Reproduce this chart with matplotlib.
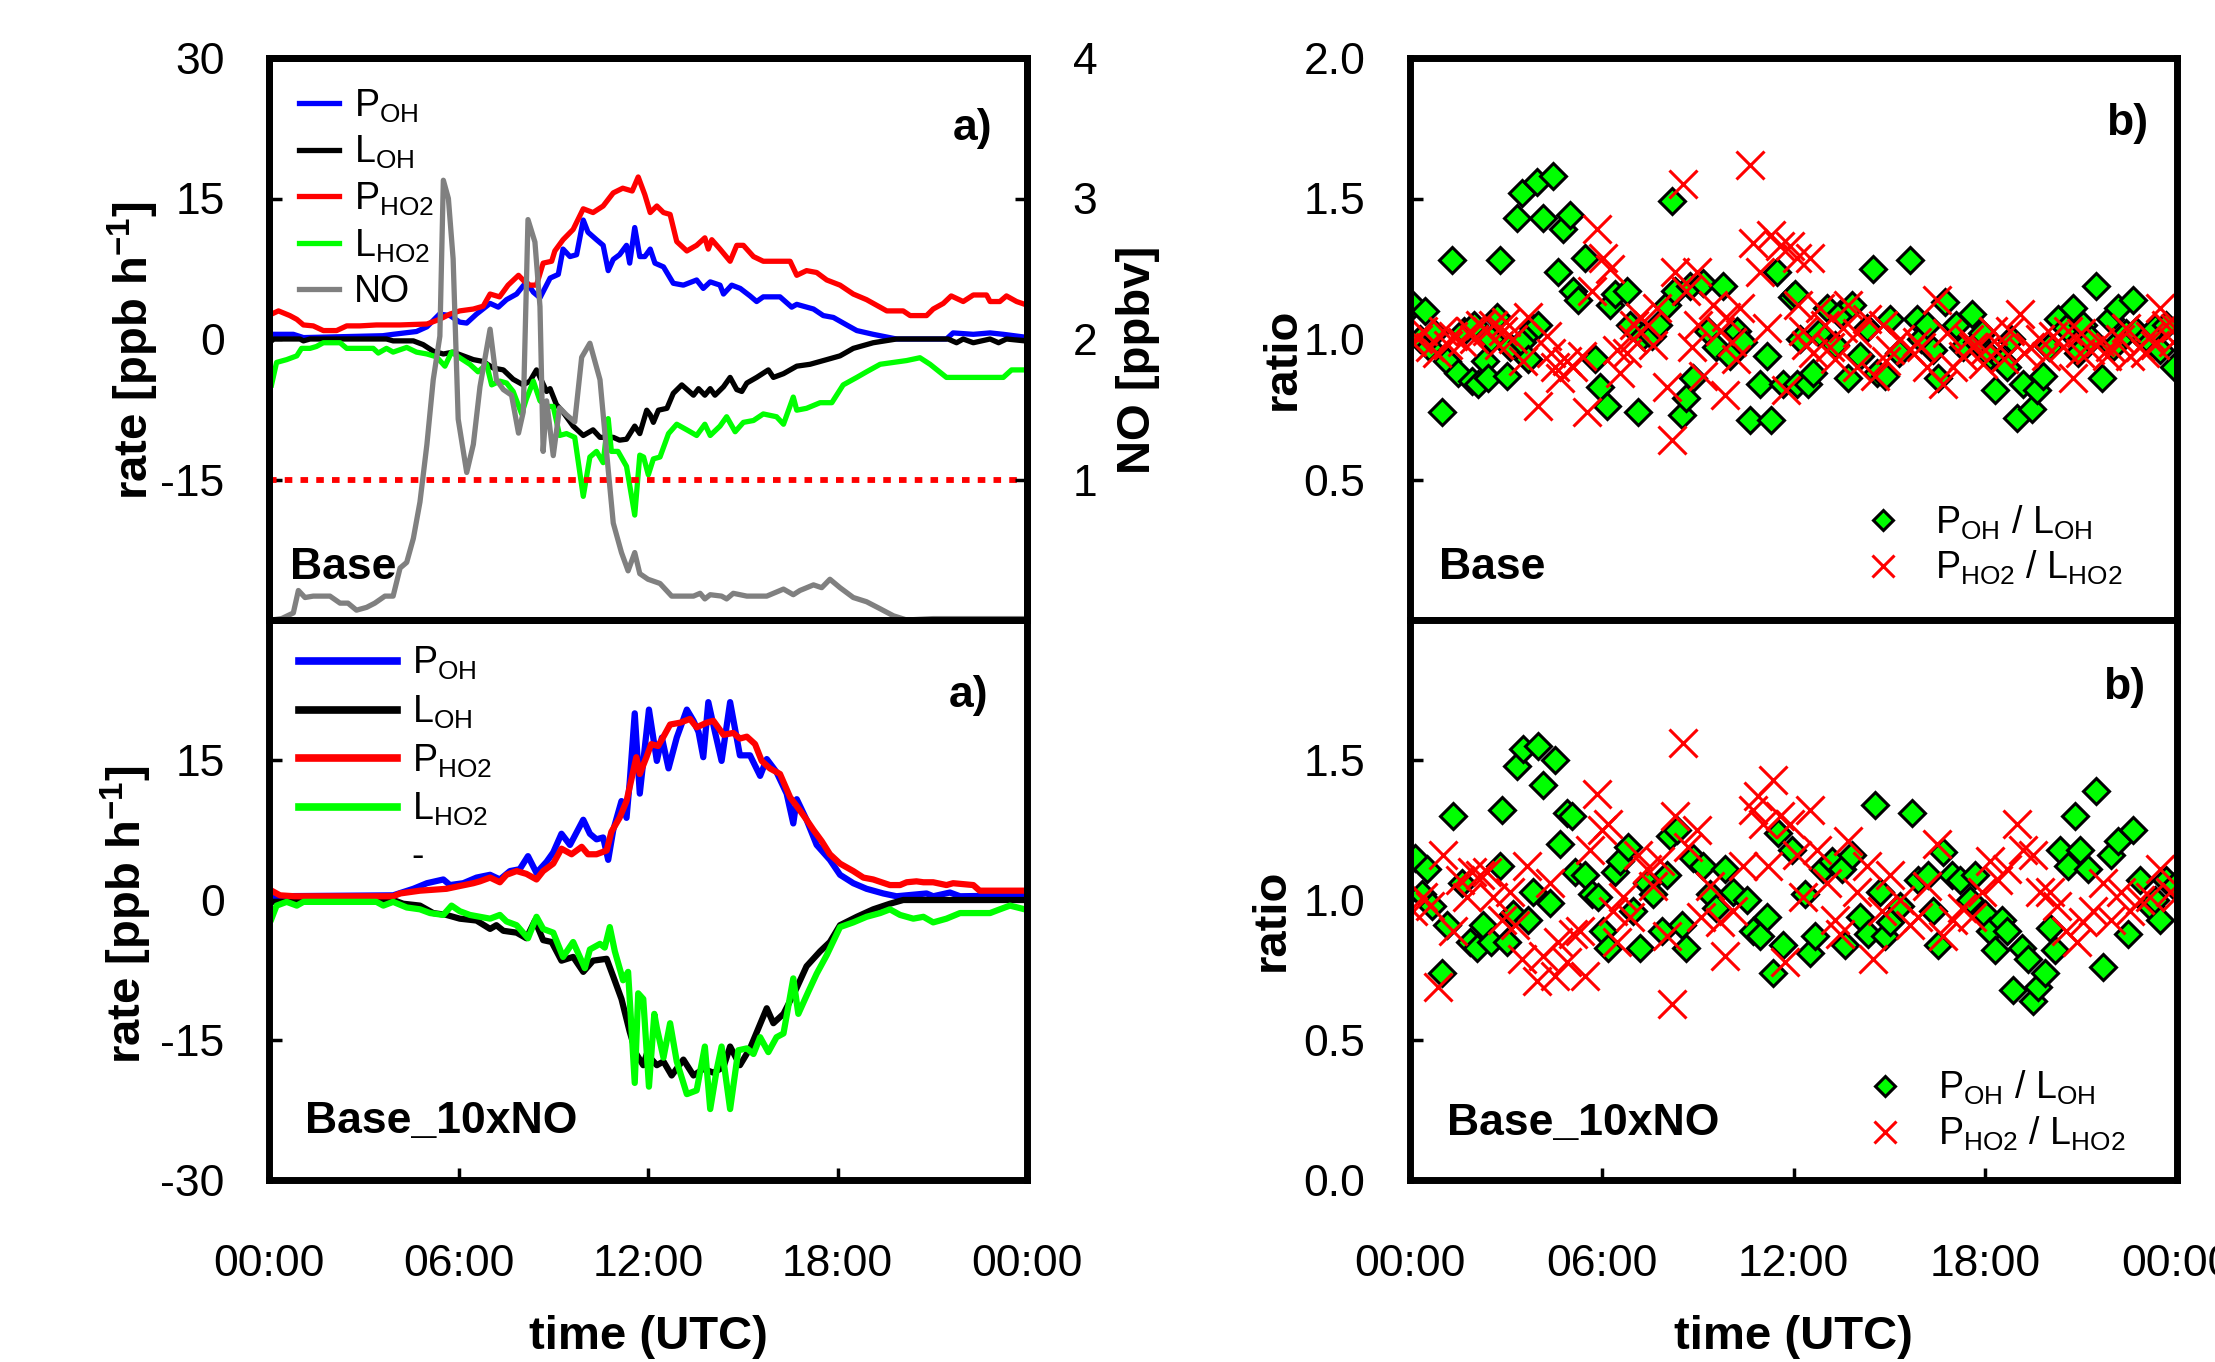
import matplotlib
matplotlib.use('Agg')
import matplotlib.pyplot as plt
from matplotlib.lines import Line2D
import numpy as np

plt.rcParams['font.family'] = ['Liberation Sans', 'DejaVu Sans']
plt.rcParams['mathtext.fontset'] = 'custom'
plt.rcParams['mathtext.rm'] = 'Liberation Sans'
plt.rcParams['mathtext.it'] = 'Liberation Sans:italic'
plt.rcParams['mathtext.bf'] = 'Liberation Sans:bold'

# ---------------- axes / tick definitions ----------------
TICK_HOURS = [0, 6, 12, 18, 24]
TICK_LABELS = ['00:00', '06:00', '12:00', '18:00', '00:00']
RATE_TICKS = [-30, -15, 0, 15, 30]
NO_TICKS = [0, 1, 2, 3, 4]
RATIO_TICKS = [0.0, 0.5, 1.0, 1.5, 2.0]
NO_REF = 1.0  # ppbv reference line

# ---------------- panel a) Base : (hour, rate ppb/h) ----------------
P_OH_BASE = [(0.08,0.5),(0.77,0.5),(1.09,0.15),(3.6,0.35),(3.93,0.5),(4.67,0.8),(5.0,1.3),(5.4,2.66),(5.73,2.5),
             (6.04,1.8),(6.26,1.7),(6.57,2.66),(7.0,3.8),(7.26,3.4),(7.52,4.2),(7.84,4.8),(8.15,6.1),(8.37,5.0),
             (8.58,4.4),(8.9,6.5),(9.16,6.9),(9.31,9.6),(9.53,8.8),(9.74,9.0),(9.95,12.7),(10.1,11.4),(10.37,10.6),
             (10.58,10.0),(10.74,7.3),(10.9,8.5),(11.1,9.0),(11.32,10.0),(11.42,8.1),(11.58,11.9),(11.74,8.8),
             (11.9,8.8),(12.07,9.6),(12.22,8.1),(12.49,7.7),(12.8,5.95),(13.12,5.75),(13.54,6.3),(13.75,5.4),
             (13.97,6.1),(14.28,5.75),(14.39,4.8),(14.65,5.75),(14.92,5.4),(15.23,4.6),(15.44,4.0),(15.65,4.5),
             (16.18,4.5),(16.55,3.4),(16.71,3.7),(17.24,3.2),(17.55,2.5),(17.87,2.3),(18.29,1.5),(18.61,0.9),
             (19.13,0.5),(19.87,0.0),(21.45,0.0),(21.66,0.65),(22.3,0.5),(22.83,0.65),(23.25,0.5),(23.93,0.2)]
L_OH_BASE = [(0.08,-0.2),(0.15,0.0),(0.98,0.0),(1.09,-0.2),(1.3,0.0),(3.72,0.0),(3.93,-0.2),(4.57,-0.2),(4.88,-0.6),
             (5.2,-1.3),(5.52,-1.6),(5.83,-1.4),(6.15,-1.8),(6.47,-2.2),(6.78,-2.4),(7.1,-3.1),(7.42,-3.3),(7.73,-4.3),
             (8.05,-4.9),(8.26,-4.5),(8.47,-3.3),(8.79,-5.6),(8.9,-5.3),(9.1,-7.0),(9.31,-7.8),(9.63,-9.3),(9.95,-10.3),
             (10.26,-9.7),(10.48,-10.5),(10.9,-10.5),(11.1,-10.8),(11.32,-10.7),(11.58,-9.3),(11.74,-10.1),(11.96,-7.6),
             (12.07,-8.1),(12.17,-8.9),(12.33,-7.6),(12.6,-7.4),(12.8,-5.8),(13.07,-4.9),(13.44,-6.0),(13.6,-5.3),
             (13.8,-6.0),(13.97,-5.3),(14.12,-6.0),(14.39,-5.1),(14.6,-4.1),(14.81,-5.4),(14.97,-5.6),(15.13,-4.7),
             (15.44,-4.1),(15.81,-3.3),(15.97,-4.1),(16.29,-3.7),(16.71,-2.9),(17.13,-2.7),(17.66,-2.2),(18.08,-1.8),
             (18.5,-1.0),(19.13,-0.4),(19.87,0.0),(21.5,0.0),(21.77,-0.4),(21.98,0.0),(22.3,-0.4),(22.83,0.0),
             (23.1,-0.4),(23.35,0.0),(23.93,-0.2)]
P_HO2_BASE = [(0.08,2.66),(0.3,3.0),(0.66,2.5),(0.88,2.1),(1.09,1.5),(1.4,1.4),(1.72,0.9),(2.14,0.9),(2.46,1.4),
              (2.88,1.4),(3.4,1.5),(4.15,1.5),(5.0,1.6),(5.4,2.1),(5.73,2.66),(6.04,3.0),(6.47,3.2),(6.78,3.5),
              (7.0,4.8),(7.3,4.5),(7.57,5.75),(7.9,6.8),(8.1,6.1),(8.26,5.75),(8.47,5.75),(8.68,8.1),(8.95,8.3),
              (9.05,9.4),(9.31,10.6),(9.63,11.7),(9.95,13.9),(10.26,13.5),(10.58,14.2),(10.9,15.6),(11.2,16.1),
              (11.5,15.8),(11.69,17.3),(11.9,15.4),(12.07,13.5),(12.28,14.2),(12.49,13.5),(12.7,13.3),(12.91,10.4),
              (13.23,9.4),(13.54,10.0),(13.8,10.8),(13.91,9.6),(14.02,10.6),(14.28,9.6),(14.6,8.3),(14.81,10.0),
              (15.02,10.0),(15.34,8.8),(15.65,8.3),(16.5,8.3),(16.71,6.8),(17.02,7.3),(17.34,7.1),(17.66,6.3),
              (18.08,5.75),(18.5,4.8),(18.92,4.2),(19.24,3.6),(19.56,3.0),(20.08,3.0),(20.3,2.5),(20.82,2.5),
              (21.03,3.2),(21.35,3.8),(21.6,4.6),(21.98,4.0),(22.3,4.7),(22.72,4.7),(22.83,4.0),(23.14,4.0),
              (23.35,4.6),(23.67,4.0),(23.93,3.7)]
L_HO2_BASE = [(0.08,-4.9),(0.24,-2.5),(0.56,-2.2),(0.88,-1.8),(1.03,-1.0),(1.3,-1.0),(1.5,-0.8),(1.72,-0.4),
              (2.25,-0.4),(2.46,-1.0),(3.3,-1.0),(3.46,-1.5),(3.72,-1.0),(3.93,-1.4),(4.36,-0.9),(4.67,-1.4),
              (5.0,-1.6),(5.3,-1.9),(5.57,-2.9),(5.78,-1.4),(6.04,-2.0),(6.36,-2.7),(6.62,-3.5),(6.89,-2.7),
              (7.05,-4.9),(7.31,-4.5),(7.52,-4.7),(7.73,-5.6),(8.0,-8.0),(8.15,-6.4),(8.37,-4.5),(8.58,-6.6),
              (8.79,-7.2),(9.0,-7.2),(9.2,-10.3),(9.42,-10.1),(9.68,-10.5),(9.95,-16.8),(10.16,-12.6),(10.37,-12.0),
              (10.58,-13.2),(10.74,-8.5),(10.84,-12.0),(11.05,-12.0),(11.32,-13.6),(11.58,-18.8),(11.74,-12.4),
              (11.86,-12.6),(12.01,-14.5),(12.17,-12.8),(12.38,-12.6),(12.65,-10.1),(12.91,-9.1),(13.23,-9.7),
              (13.54,-10.3),(13.8,-9.1),(13.97,-10.3),(14.28,-9.3),(14.49,-8.3),(14.76,-9.9),(15.02,-8.9),
              (15.34,-8.7),(15.65,-8.0),(16.07,-8.3),(16.29,-9.1),(16.6,-6.2),(16.71,-7.6),(17.02,-7.4),(17.45,-6.8),
              (17.82,-6.8),(18.18,-4.9),(18.61,-4.1),(18.92,-3.5),(19.35,-2.7),(19.77,-2.5),(20.19,-2.3),(20.61,-2.0),
              (20.93,-2.7),(21.45,-4.1),(23.25,-4.1),(23.51,-3.3),(23.93,-3.3)]
NO_BASE = [(0.08,0.0),(0.4,0.01),(0.77,0.05),(0.93,0.21),(1.14,0.16),(1.4,0.17),(1.93,0.17),(2.25,0.12),(2.5,0.12),
           (2.77,0.07),(3.09,0.09),(3.35,0.12),(3.67,0.17),(3.93,0.17),(4.15,0.37),(4.36,0.41),(4.57,0.58),(4.78,0.84),
           (5.0,1.25),(5.2,1.71),(5.41,2.02),(5.52,3.13),(5.68,3.0),(5.83,2.57),(5.99,1.43),(6.26,1.05),(6.47,1.25),
           (6.68,1.66),(7.0,2.07),(7.2,1.71),(7.42,1.64),(7.68,1.6),(7.9,1.33),(8.05,1.48),(8.2,2.85),(8.42,2.69),
           (8.58,2.23),(8.68,1.2),(8.79,1.56),(9.0,1.17),(9.2,1.51),(9.42,1.46),(9.68,1.41),(9.9,1.87),(10.16,1.97),
           (10.48,1.71),(10.74,1.07),(10.9,0.69),(11.16,0.48),(11.37,0.35),(11.58,0.48),(11.74,0.33),(12.0,0.29),
           (12.38,0.26),(12.75,0.17),(13.44,0.17),(13.65,0.19),(13.8,0.15),(13.97,0.18),(14.33,0.17),(14.49,0.15),
           (14.7,0.19),(15.13,0.17),(15.76,0.17),(16.29,0.22),(16.6,0.18),(16.81,0.21),(17.24,0.25),(17.5,0.23),
           (17.76,0.29),(18.08,0.23),(18.5,0.16),(18.92,0.13),(19.35,0.08),(19.77,0.03),(20.19,0.0),(21.03,0.01),
           (23.93,0.01)]

# ---------------- panel a) Base_10xNO ----------------
P_OH_10X = [(0.08,0.4),(3.93,0.5),(4.57,1.2),(5.0,1.8),(5.52,2.2),(5.73,1.6),(6.15,1.8),(6.57,2.4),(7.0,2.7),
            (7.31,2.2),(7.63,3.1),(7.94,3.3),(8.2,4.7),(8.47,2.9),(8.79,4.1),(9.0,5.1),(9.26,7.1),(9.53,5.9),
            (9.95,8.6),(10.16,7.1),(10.37,6.5),(10.58,6.7),(10.74,4.3),(10.9,7.5),(11.16,10.6),(11.32,8.8),
            (11.42,12.6),(11.58,20.0),(11.74,11.4),(12.03,20.4),(12.28,14.9),(12.44,17.4),(12.65,14.1),(12.91,17.4),
            (13.23,20.4),(13.44,19.2),(13.6,18.0),(13.75,15.3),(13.91,21.2),(14.12,18.0),(14.33,14.9),(14.6,21.2),
            (14.91,15.5),(15.23,15.5),(15.55,13.3),(15.76,15.1),(16.07,13.7),(16.39,11.4),(16.6,8.2),(16.71,10.8),
            (17.02,8.6),(17.34,5.9),(17.76,4.3),(18.08,2.7),(18.5,1.8),(18.92,1.2),(19.45,0.7),(19.87,0.4),
            (20.82,0.7),(21.03,0.4),(21.56,0.8),(21.88,0.4),(23.93,0.5)]
L_OH_10X = [(0.08,-0.2),(3.93,0.0),(4.25,-0.4),(4.78,-0.6),(5.2,-1.4),(5.62,-1.6),(6.04,-2.0),(6.57,-2.2),(7.0,-3.1),
            (7.2,-2.7),(7.42,-3.3),(7.84,-3.5),(8.15,-4.1),(8.42,-2.2),(8.68,-4.3),(8.95,-4.5),(9.26,-6.5),(9.63,-6.1),
            (9.95,-7.7),(10.26,-6.5),(10.69,-6.3),(10.9,-8.2),(11.16,-10.6),(11.42,-14.1),(11.63,-16.5),(11.85,-17.7),
            (11.96,-16.5),(12.28,-17.7),(12.49,-17.3),(12.75,-18.8),(13.12,-17.1),(13.44,-18.8),(13.75,-18.1),
            (14.07,-18.5),(14.39,-17.9),(14.6,-15.7),(14.91,-17.7),(15.23,-15.9),(15.55,-13.3),(15.76,-11.6),
            (15.97,-13.2),(16.29,-12.2),(16.71,-9.4),(17.02,-7.1),(17.45,-5.5),(17.76,-4.5),(18.08,-2.7),(18.61,-1.8),
            (19.13,-1.0),(19.66,-0.4),(20.08,0.0),(23.93,0.0)]
P_HO2_10X = [(0.08,1.0),(0.35,0.5),(0.8,0.4),(3.93,0.4),(4.15,0.7),(4.78,1.0),(5.2,1.1),(5.62,1.2),(6.04,1.5),
             (6.47,1.8),(6.68,2.0),(7.0,2.4),(7.31,1.9),(7.52,2.7),(7.84,3.1),(8.15,2.8),(8.47,2.2),(8.68,3.1),
             (9.0,3.9),(9.26,5.5),(9.58,4.9),(9.9,5.7),(10.1,4.9),(10.37,4.9),(10.69,5.3),(10.84,7.3),(11.1,8.8),
             (11.32,10.6),(11.48,13.0),(11.63,15.3),(11.74,13.5),(11.95,15.3),(12.1,16.7),(12.32,16.5),(12.49,17.5),
             (12.7,18.8),(13.02,19.0),(13.33,19.4),(13.54,18.5),(13.86,19.0),(14.07,19.2),(14.39,17.7),(14.7,17.9),
             (14.91,17.3),(15.13,17.5),(15.39,16.7),(15.6,14.9),(15.86,14.1),(16.18,13.5),(16.5,11.0),(16.81,9.6),
             (17.02,8.6),(17.24,7.5),(17.5,6.3),(17.76,4.9),(18.08,3.9),(18.5,3.1),(18.82,2.4),(19.13,2.2),
             (19.66,1.6),(19.98,1.6),(20.19,1.9),(20.5,2.0),(20.72,1.9),(21.03,1.9),(21.45,1.6),(21.66,1.8),
             (22.3,1.6),(22.5,1.0),(23.93,1.0)]
L_HO2_10X = [(0.08,-2.0),(0.24,-0.6),(0.56,-0.2),(0.88,-0.6),(1.09,-0.2),(3.4,-0.2),(3.62,-0.6),(3.93,-0.2),
             (4.36,-0.8),(4.78,-1.0),(5.1,-1.4),(5.52,-1.6),(5.78,-0.6),(6.04,-1.2),(6.36,-1.6),(6.68,-1.8),
             (7.0,-2.0),(7.31,-1.6),(7.52,-2.3),(7.84,-2.7),(8.2,-4.1),(8.47,-1.8),(8.68,-3.1),(9.0,-3.5),
             (9.31,-6.1),(9.63,-4.5),(10.0,-7.3),(10.16,-5.3),(10.48,-4.7),(10.63,-5.1),(10.79,-2.9),(10.95,-5.5),
             (11.21,-8.6),(11.37,-7.7),(11.58,-19.6),(11.69,-10.0),(11.85,-10.6),(12.03,-20.0),(12.2,-12.2),
             (12.28,-13.7),(12.49,-16.9),(12.7,-13.2),(12.91,-17.3),(13.23,-20.8),(13.54,-20.4),(13.8,-15.7),
             (13.97,-22.4),(14.18,-18.1),(14.33,-15.7),(14.6,-22.4),(14.86,-16.1),(15.13,-15.9),(15.34,-16.5),
             (15.55,-14.7),(15.81,-16.3),(16.07,-14.7),(16.29,-14.3),(16.6,-8.4),(16.76,-12.2),(17.08,-9.8),
             (17.34,-7.9),(17.66,-5.9),(18.08,-2.9),(18.5,-2.4),(18.92,-1.8),(19.35,-1.4),(19.66,-1.0),(19.98,-1.6),
             (20.4,-2.0),(20.72,-1.8),(21.03,-2.4),(21.45,-2.0),(21.88,-1.4),(22.83,-1.4),(23.14,-1.0),(23.46,-0.6),
             (23.93,-1.0)]

# ---------------- panel b) ratios : (hour, ratio) ----------------
RATIO_OH_BASE = [(0.1,1.12),(0.3,1.0),(0.47,1.10),(0.6,0.97),(0.75,1.02),(0.99,0.74),(1.15,0.92),(1.30,1.28),
                 (1.51,0.88),(1.7,1.03),(1.93,0.85),(2.0,1.05),(2.14,0.84),(2.35,0.92),(2.45,0.86),(2.55,1.0),
                 (2.71,1.08),(2.82,1.28),(3.02,0.87),(3.13,0.97),(3.34,1.43),(3.49,1.52),(3.5,0.99),(3.70,0.93),
                 (3.86,1.04),(3.96,1.56),(4.0,1.05),(4.17,1.43),(4.48,1.58),(4.64,1.24),(4.80,1.39),(5.01,1.44),
                 (5.11,1.17),(5.27,1.14),(5.47,1.29),(5.79,0.93),(5.94,0.83),(6.15,0.76),(6.26,1.12),(6.41,1.16),
                 (6.78,1.17),(6.88,1.05),(7.14,0.74),(7.30,1.01),(7.56,1.01),(7.77,1.05),(8.03,1.12),(8.19,1.49),
                 (8.29,1.17),(8.50,0.73),(8.65,0.79),(8.76,1.19),(8.86,0.86),(9.18,1.20),(9.33,1.03),(9.59,0.97),
                 (9.80,1.19),(10.01,0.94),(10.22,1.03),(10.43,0.99),(10.64,0.71),(10.95,0.84),(11.16,0.94),
                 (11.31,0.71),(11.47,1.24),(11.68,0.84),(11.94,1.15),(12.05,1.16),(12.1,0.84),(12.2,1.0),(12.46,0.84),
                 (12.62,0.88),(12.8,1.02),(13.04,1.11),(13.3,0.98),(13.45,1.09),(13.71,0.86),(13.82,1.12),(14.08,0.94),
                 (14.3,1.04),(14.5,1.25),(14.6,0.88),(14.86,0.87),(15.02,1.07),(15.3,0.95),(15.64,1.28),(15.85,1.07),
                 (16.0,1.0),(16.17,1.05),(16.37,0.96),(16.53,0.86),(16.74,1.13),(17.1,1.05),(17.31,0.97),(17.57,1.09),
                 (17.73,0.99),(17.9,1.02),(18.15,0.94),(18.3,0.82),(18.56,0.92),(18.67,0.90),(18.8,1.0),(18.98,0.72),
                 (19.19,0.84),(19.45,0.75),(19.61,0.82),(19.81,0.87),(20.0,0.97),(20.28,1.07),(20.54,1.04),(20.75,1.11),
                 (20.9,0.95),(21.06,1.05),(21.3,1.0),(21.48,1.19),(21.64,0.86),(21.9,1.07),(22.0,0.97),(22.16,1.11),
                 (22.4,1.02),(22.63,1.14),(22.73,1.03),(23.0,1.0),(23.15,0.99),(23.3,1.04),(23.46,0.96),(23.67,1.05),
                 (23.9,0.90)]
RATIO_HO2_BASE = [(0.05,0.99),(0.26,1.0),(0.4,1.03),(0.63,0.97),(0.83,0.95),(1.04,1.03),(1.2,0.98),(1.36,1.01),
                  (1.62,0.99),(1.88,1.03),(2.0,1.0),(2.19,1.05),(2.40,1.03),(2.61,1.05),(2.8,0.98),(2.92,1.03),
                  (3.0,1.06),(3.23,1.0),(3.55,0.92),(3.70,1.08),(4.02,0.76),(4.28,1.01),(4.4,0.95),(4.54,0.90),
                  (4.69,0.86),(4.90,0.92),(5.11,0.90),(5.37,0.94),(5.53,0.74),(5.68,1.17),(5.84,1.39),(6.05,1.29),
                  (6.26,1.25),(6.47,0.96),(6.57,0.88),(6.78,0.95),(6.99,1.0),(7.0,1.05),(7.20,1.08),(7.46,1.05),
                  (7.6,0.98),(7.72,1.11),(8.03,0.83),(8.19,0.64),(8.29,1.24),(8.55,1.55),(8.65,1.17),(8.81,0.97),
                  (8.97,1.24),(9.0,1.05),(9.18,0.87),(9.49,1.12),(9.70,1.03),(9.85,0.80),(9.9,1.08),(10.06,0.99),
                  (10.2,0.93),(10.32,1.11),(10.64,1.62),(10.74,1.34),(10.95,1.24),(11.16,1.04),(11.31,1.37),
                  (11.57,1.33),(11.78,0.82),(11.89,1.33),(12.1,1.29),(12.15,1.12),(12.31,1.03),(12.4,0.98),
                  (12.52,1.29),(12.62,0.95),(12.83,1.11),(13.0,1.05),(13.14,0.97),(13.3,0.93),(13.56,1.04),
                  (13.71,1.12),(13.98,0.90),(14.0,1.02),(14.29,1.07),(14.55,0.87),(14.81,1.05),(14.9,0.92),
                  (15.02,0.96),(15.33,1.0),(15.64,0.96),(15.85,0.99),(16.0,0.97),(16.17,0.90),(16.48,1.14),
                  (16.69,0.84),(16.8,1.02),(17.0,0.90),(17.31,0.94),(17.5,1.0),(17.62,0.97),(17.94,0.91),(18.0,0.96),
                  (18.25,1.03),(18.46,0.97),(18.6,0.93),(18.77,1.03),(19.08,1.09),(19.2,0.95),(19.4,0.97),(19.71,1.0),
                  (19.9,0.94),(20.13,1.01),(20.44,0.97),(20.6,1.03),(20.75,0.86),(20.96,0.95),(21.0,1.02),(21.27,0.96),
                  (21.59,0.99),(21.8,0.94),(21.9,0.97),(22.21,1.0),(22.4,1.04),(22.53,0.94),(22.84,0.97),(23.0,0.95),
                  (23.15,1.01),(23.3,0.98),(23.46,1.11),(23.67,1.05),(23.88,0.99),(23.95,1.04)]
RATIO_OH_10X = [(0.16,1.15),(0.36,1.02),(0.52,1.11),(0.68,0.98),(0.99,0.74),(1.15,0.91),(1.36,1.30),(1.62,1.06),
                (1.88,0.85),(2.09,0.83),(2.29,0.91),(2.55,0.85),(2.82,1.12),(2.87,1.32),(3.02,0.85),(3.23,0.95),
                (3.34,1.48),(3.55,1.54),(3.70,0.93),(3.86,1.03),(4.0,1.55),(4.17,1.41),(4.38,0.99),(4.54,1.50),
                (4.69,1.20),(4.90,1.31),(5.06,1.30),(5.16,1.10),(5.47,1.09),(5.68,1.02),(5.89,1.01),(6.05,0.89),
                (6.20,0.83),(6.41,1.10),(6.57,1.14),(6.83,1.19),(6.99,0.96),(7.19,0.83),(7.41,1.06),(7.61,1.02),
                (7.87,0.89),(8.03,1.09),(8.13,1.23),(8.34,1.25),(8.50,0.91),(8.65,0.83),(8.86,1.15),(9.18,1.12),
                (9.38,1.02),(9.59,0.97),(9.85,1.11),(10.11,1.03),(10.53,1.0),(10.74,0.89),(10.95,0.87),(11.16,0.94),
                (11.37,0.74),(11.52,1.24),(11.68,0.84),(11.94,1.18),(12.36,1.02),(12.52,0.81),(12.67,0.87),
                (12.93,1.11),(13.19,1.14),(13.51,1.11),(13.61,0.84),(13.82,1.16),(14.08,0.94),(14.34,0.88),
                (14.55,1.34),(14.71,1.03),(14.86,0.87),(15.02,0.92),(15.33,0.98),(15.70,1.31),(15.9,1.07),
                (16.22,1.09),(16.37,0.96),(16.53,0.84),(16.69,1.17),(16.95,1.09),(17.21,1.07),(17.52,1.0),
                (17.68,1.09),(17.99,0.95),(18.15,0.89),(18.30,0.82),(18.51,0.93),(18.67,0.89),(18.88,0.68),
                (19.14,0.83),(19.35,0.79),(19.5,0.64),(19.66,0.69),(19.87,0.74),(20.02,0.90),(20.18,0.82),
                (20.34,1.18),(20.6,1.12),(20.81,1.30),(20.96,1.18),(21.22,1.11),(21.48,1.39),(21.69,0.76),
                (21.95,1.16),(22.16,1.21),(22.47,0.88),(22.63,1.25),(22.84,1.07),(23.15,0.98),(23.3,1.0),
                (23.46,0.93),(23.67,1.07),(23.9,1.05)]
RATIO_HO2_10X = [(0.10,0.96),(0.42,1.01),(0.63,0.98),(0.89,0.69),(1.04,1.16),(1.36,0.89),(1.56,1.07),(1.77,1.01),
                 (1.93,1.10),(2.19,1.09),(2.40,1.10),(2.61,1.01),(2.87,0.93),(3.13,1.03),(3.28,0.91),(3.49,0.79),
                 (3.65,1.12),(3.96,0.71),(4.17,0.80),(4.38,1.06),(4.54,0.73),(4.64,0.85),(4.90,0.78),(5.11,0.88),
                 (5.32,0.89),(5.47,0.73),(5.63,1.18),(5.84,1.38),(6.0,1.25),(6.20,1.27),(6.36,0.96),(6.47,0.85),
                 (6.67,1.01),(6.88,0.94),(7.14,1.16),(7.41,1.11),(7.61,1.05),(7.82,1.14),(8.03,0.87),(8.19,0.63),
                 (8.29,1.30),(8.55,1.56),(8.71,1.19),(8.97,1.25),(9.12,0.94),(9.38,1.05),(9.70,0.92),(9.85,0.80),
                 (10.11,0.96),(10.43,1.12),(10.74,1.32),(10.90,1.37),(11.05,1.27),(11.21,1.12),(11.37,1.43),
                 (11.57,1.30),(11.73,0.78),(11.89,1.27),(12.1,1.16),(12.31,1.01),(12.52,1.32),(12.72,1.18),
                 (13.04,1.06),(13.3,0.93),(13.45,0.88),(13.71,1.21),(13.98,1.03),(14.29,1.12),(14.5,0.79),
                 (14.76,0.96),(15.02,1.09),(15.33,1.0),(15.64,0.91),(15.9,0.94),(16.17,1.05),(16.48,1.20),
                 (16.69,0.87),(17.0,0.93),(17.26,0.97),(17.57,0.94),(17.89,1.03),(18.15,1.14),(18.41,1.07),
                 (18.67,1.11),(18.98,1.27),(19.19,1.18),(19.50,1.16),(19.71,1.03),(20.02,1.03),(20.23,0.98),
                 (20.54,0.89),(20.86,0.85),(21.07,0.92),(21.38,0.96),(21.69,1.06),(21.95,0.93),(22.26,1.03),
                 (22.53,0.96),(22.84,1.0),(23.15,1.01),(23.46,1.11),(23.77,1.03),(23.98,1.01)]

# ---------------- styling constants ----------------
BLUE, BLACK, RED, GREEN, GREY = '#0000ff', '#000000', '#ff0000', '#00ff00', '#808080'
TICK_FS, LABEL_FS, LEG_FS, TAG_FS = 32, 34, 27, 32


def unzip(pairs):
    t, v = zip(*pairs)
    return np.asarray(t), np.asarray(v)


def style(ax, show_x):
    for s in ax.spines.values():
        s.set_linewidth(5)
    ax.set_xlim(0, 24)
    ax.set_xticks(TICK_HOURS)
    ax.tick_params(axis='both', direction='in', length=9, width=2.5, labelsize=TICK_FS)
    ax.tick_params(axis='y', pad=32)
    if show_x:
        ax.set_xticklabels(TICK_LABELS)
        ax.tick_params(axis='x', pad=46)
        ax.set_xlabel('time (UTC)', fontsize=LABEL_FS, fontweight='bold', labelpad=22)
    else:
        ax.tick_params(axis='x', bottom=False, labelbottom=False)


fig = plt.figure(figsize=(22.15, 13.62), dpi=100)
W, H = 2215.0, 1362.0
xL0, xL1 = 269 / W, 1027 / W
xR0, xR1 = 1410 / W, 2177 / W
y_top, y_mid, y_bot = 1 - 58 / H, 1 - 620 / H, 1 - 1180 / H

ax_a1 = fig.add_axes([xL0, y_mid, xL1 - xL0, y_top - y_mid])
ax_a2 = fig.add_axes([xL0, y_bot, xL1 - xL0, y_mid - y_bot])
ax_b1 = fig.add_axes([xR0, y_mid, xR1 - xR0, y_top - y_mid])
ax_b2 = fig.add_axes([xR0, y_bot, xR1 - xR0, y_mid - y_bot])

rate_label = r'rate [ppb h$^{\mathbf{-1}}$]'

# ---------- top-left ----------
ax = ax_a1
lw = 3.8
h1, = ax.plot(*unzip(P_OH_BASE), color=BLUE, lw=lw)
h2, = ax.plot(*unzip(L_OH_BASE), color=BLACK, lw=lw)
h3, = ax.plot(*unzip(P_HO2_BASE), color=RED, lw=lw)
h4, = ax.plot(*unzip(L_HO2_BASE), color=GREEN, lw=lw)
ax.set_ylim(RATE_TICKS[0], RATE_TICKS[-1])
ax.set_yticks(RATE_TICKS)
ax.set_yticklabels(['' if v == RATE_TICKS[0] else str(v) for v in RATE_TICKS])
style(ax, False)
ax.set_ylabel(rate_label, fontsize=LABEL_FS, fontweight='bold')
ax.yaxis.set_label_coords(-0.142, 0.48)

ax_no = ax.twinx()
ax_no.axhline(NO_REF, color=RED, lw=4.2, ls=(0, (1.3, 1.4)), zorder=1)
h5, = ax_no.plot(*unzip(NO_BASE), color=GREY, lw=lw, zorder=2)
ax_no.set_ylim(NO_TICKS[0], NO_TICKS[-1])
ax_no.set_yticks(NO_TICKS)
ax_no.set_yticklabels(['' if v == NO_TICKS[0] else str(v) for v in NO_TICKS])
for s in ax_no.spines.values():
    s.set_linewidth(5)
ax_no.tick_params(axis='y', direction='in', length=9, width=2.5, labelsize=TICK_FS, pad=33)
ax_no.set_ylabel('NO [ppbv]', fontsize=LABEL_FS, fontweight='bold')
ax_no.yaxis.set_label_coords(1.117, 0.463)
ax_no.legend([h1, h2, h3, h4, h5],
             [r'P$_{\mathrm{OH}}$', r'L$_{\mathrm{OH}}$', r'P$_{\mathrm{HO2}}$', r'L$_{\mathrm{HO2}}$', 'NO'],
             loc='upper left', bbox_to_anchor=(0.04, 0.948), frameon=False, fontsize=LEG_FS,
             handlelength=1.05, handletextpad=0.4, labelspacing=0.25, borderpad=0, borderaxespad=0)
ax_no.text(0.954, 0.875, 'a)', transform=ax_no.transAxes, ha='right', va='center',
           fontsize=TAG_FS, fontweight='bold')
ax_no.text(0.028, 0.073, 'Base', transform=ax_no.transAxes, ha='left', va='baseline',
           fontsize=TAG_FS, fontweight='bold')

# ---------- bottom-left ----------
ax = ax_a2
lw2 = 4.5
ax.plot(*unzip(P_OH_10X), color=BLUE, lw=lw2)
ax.plot(*unzip(L_OH_10X), color=BLACK, lw=lw2)
ax.plot(*unzip(P_HO2_10X), color=RED, lw=lw2)
ax.plot(*unzip(L_HO2_10X), color=GREEN, lw=lw2)
ax.set_ylim(RATE_TICKS[0], RATE_TICKS[-1])
ax.set_yticks(RATE_TICKS)
ax.set_yticklabels(['' if v == RATE_TICKS[-1] else str(v) for v in RATE_TICKS])
style(ax, True)
ax.set_ylabel(rate_label, fontsize=LABEL_FS, fontweight='bold')
ax.yaxis.set_label_coords(-0.152, 0.473)
leg_handles = [Line2D([], [], color=c, lw=5.5) for c in (BLUE, BLACK, RED, GREEN)] + \
              [Line2D([], [], color='none', lw=5)]
ax.legend(leg_handles,
          [r'P$_{\mathrm{OH}}$', r'L$_{\mathrm{OH}}$', r'P$_{\mathrm{HO2}}$', r'L$_{\mathrm{HO2}}$', '-'],
          loc='upper left', bbox_to_anchor=(0.04, 0.955), frameon=False, fontsize=LEG_FS,
          handlelength=2.6, handletextpad=0.4, labelspacing=0.3, borderpad=0, borderaxespad=0)
ax.text(0.949, 0.866, 'a)', transform=ax.transAxes, ha='right', va='center',
        fontsize=TAG_FS, fontweight='bold')
ax.text(0.0475, 0.084, 'Base_10xNO', transform=ax.transAxes, ha='left', va='baseline',
        fontsize=TAG_FS, fontweight='bold')


# ---------- right panels ----------
def ratio_panel(ax, oh, ho2, top, tag_pos, name_pos, name, leg_anchor, label_x):
    ax.plot(*unzip(oh), ls='none', marker='D', ms=13.5, mfc=GREEN, mec=BLACK, mew=2.2)
    ax.plot(*unzip(ho2), ls='none', marker='x', ms=20, mec=RED, mew=2.2)
    ax.set_ylim(RATIO_TICKS[0], RATIO_TICKS[-1])
    ax.set_yticks(RATIO_TICKS)
    skip = RATIO_TICKS[0] if top else RATIO_TICKS[-1]
    ax.set_yticklabels(['' if v == skip else f'{v:.1f}' for v in RATIO_TICKS])
    style(ax, not top)
    ax.set_ylabel('ratio', fontsize=LABEL_FS, fontweight='bold')
    ax.yaxis.set_label_coords(label_x, 0.465)
    hd = Line2D([], [], ls='none', marker='D', ms=10.5, mfc=GREEN, mec=BLACK, mew=2.2)
    hx = Line2D([], [], ls='none', marker='x', ms=16, mec=RED, mew=2.2)
    ax.legend([hd, hx], [r'P$_{\mathrm{OH}}$ / L$_{\mathrm{OH}}$', r'P$_{\mathrm{HO2}}$ / L$_{\mathrm{HO2}}$'],
              loc='lower left', bbox_to_anchor=leg_anchor, frameon=False, fontsize=LEG_FS,
              handlelength=1.0, handletextpad=0.9, labelspacing=0.2, borderpad=0, borderaxespad=0,
              numpoints=1)
    ax.text(tag_pos[0], tag_pos[1], 'b)', transform=ax.transAxes, ha='right', va='center',
            fontsize=TAG_FS, fontweight='bold')
    ax.text(name_pos[0], name_pos[1], name, transform=ax.transAxes, ha='left', va='baseline',
            fontsize=TAG_FS, fontweight='bold')


ratio_panel(ax_b1, RATIO_OH_BASE, RATIO_HO2_BASE, True, (0.962, 0.883), (0.038, 0.073), 'Base',
            (0.592, 0.058), -0.137)
ratio_panel(ax_b2, RATIO_OH_10X, RATIO_HO2_10X, False, (0.958, 0.879), (0.048, 0.080), 'Base_10xNO',
            (0.595, 0.048), -0.152)

fig.savefig('out.png', dpi=100, facecolor='white')
